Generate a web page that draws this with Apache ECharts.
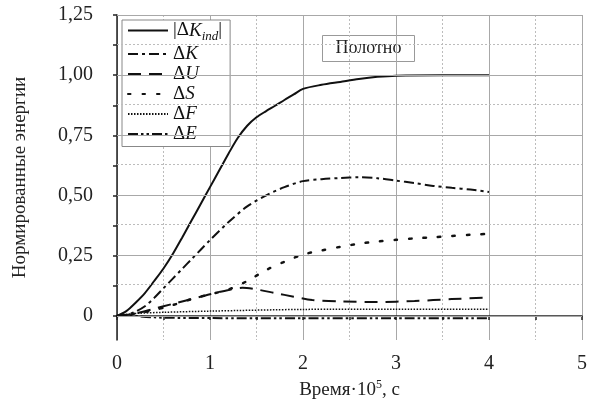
<!DOCTYPE html>
<html><head><meta charset="utf-8">
<script src="https://cdn.jsdelivr.net/npm/echarts@6/dist/echarts.min.js"></script>
<style>html,body{margin:0;padding:0;background:#fff}#c{width:590px;height:412px}</style>
</head><body><div id="c"></div>
<script>
// ---- data ----
const xKind = [0,0.1,0.2,0.3,0.4,0.5,0.6,0.7,0.8,0.9,1.0,1.1,1.2,1.3,1.4,1.5,1.6,1.7,1.8,1.9,2.0,2.2,2.4,2.6,2.8,3.0,3.5,4.0];
const yKind = [0,0.02,0.055,0.095,0.145,0.197,0.257,0.325,0.395,0.465,0.535,0.605,0.675,0.74,0.79,0.825,0.85,0.873,0.897,0.92,0.943,0.96,0.972,0.984,0.993,0.998,1.0,1.0];
const xK = [0,0.1,0.2,0.3,0.4,0.5,0.6,0.7,0.8,0.9,1.0,1.2,1.4,1.6,1.8,2.0,2.2,2.4,2.6,2.8,3.0,3.2,3.4,3.6,3.8,4.0];
const yK = [0,0.004,0.018,0.04,0.075,0.115,0.155,0.195,0.235,0.275,0.315,0.39,0.455,0.50,0.535,0.56,0.568,0.573,0.576,0.572,0.562,0.552,0.54,0.532,0.525,0.515];
const xU = [0,0.2,0.4,0.6,0.8,1.0,1.2,1.35,1.5,1.7,1.9,2.1,2.4,2.8,3.2,3.6,4.0];
const yU = [0,0.01,0.03,0.05,0.07,0.09,0.108,0.117,0.11,0.095,0.08,0.066,0.06,0.058,0.062,0.07,0.076];
const xS = [0,0.2,0.4,0.6,0.8,1.0,1.2,1.4,1.6,1.8,2.0,2.2,2.4,2.6,2.8,3.0,3.2,3.4,3.6,3.8,4.0];
const yS = [0,0.01,0.025,0.045,0.07,0.09,0.11,0.145,0.19,0.225,0.255,0.272,0.287,0.30,0.309,0.316,0.322,0.327,0.332,0.337,0.341];
const xF = [0,0.2,0.5,1.0,2.0,3.0,4.0];
const yF = [0,0.01,0.015,0.02,0.027,0.028,0.028];
const xE = [0,0.1,0.2,0.4,0.6,1.0,2.0,3.0,4.0];
const yE = [0,0.005,0,-0.006,-0.008,-0.009,-0.01,-0.01,-0.01];
const yMajorTicks = [0,0.25,0.5,0.75,1.0,1.25];
const yMinorTicks = [0.125,0.375,0.625,0.875,1.125];
const yAllTicks = [0,0.125,0.25,0.375,0.5,0.625,0.75,0.875,1.0,1.125,1.25];
const seriesNames = ['Kind','K','U','S','F','E'];
// ---- chart ----
const F = '"Liberation Serif","Times New Roman",serif';
const pairs = (xs, ys) => xs.map((x, i) => [x, ys[i]]);
const chart = echarts.init(document.getElementById('c'));
const sym = {
  d:{fontFamily:F,fontSize:19,color:'#111'},
  i:{fontFamily:F,fontSize:19,fontStyle:'italic',color:'#111'},
  k:{fontFamily:F,fontSize:19,color:'#111',lineHeight:26},
  s:{fontFamily:F,fontSize:13,fontStyle:'italic',color:'#111',verticalAlign:'bottom',padding:[8,0,0,0]}
};
const labelMap = {
  Kind:'{k||Δ}{i|K}{s|ind}{d||}',
  K:'{d|Δ}{i|K}', U:'{d|Δ}{i|U}', S:'{d|Δ}{i|S}', F:'{d|Δ}{i|F}', E:'{d|Δ}{i|E}'
};
const styles = {
  Kind:{type:'solid', width:2},
  K:{type:[10,4,3,4], width:2},
  U:{type:[13,8], width:2},
  S:{type:[2.5,12], width:2.5, cap:'round'},
  F:{type:[1.5,1.5], width:1.5},
  E:{type:[10,3,2.5,3,2.5,3], width:2}
};
const dataMap = {Kind:pairs(xKind,yKind),K:pairs(xK,yK),U:pairs(xU,yU),S:pairs(xS,yS),F:pairs(xF,yF),E:pairs(xE,yE)};
const fmt = v => v === 0 ? '0' : v.toFixed(2).replace('.', ',');
const majorStyle = {color:'#a8a8a8', width:1, type:'solid'};
const minorStyle = {color:'#bcbcbc', width:1, type:[2,2]};
const gridLines = yMajorTicks.map(v => ({yAxis:v, lineStyle:majorStyle}))
  .concat(yMinorTicks.map(v => ({yAxis:v, lineStyle:minorStyle})));
chart.setOption({
  animation:false,
  backgroundColor:'#fff',
  grid:{left:117, right:1, top:15, bottom:72, containLabel:false},
  xAxis:{type:'value', min:0, max:5, interval:1,
    name:'{t|Время·10}{p|5}{t|, с}', nameLocation:'middle', nameGap:33,
    nameTextStyle:{rich:{t:{fontFamily:F,fontSize:19,color:'#222'},p:{fontFamily:F,fontSize:12,color:'#222',verticalAlign:'top',padding:[0,0,10,0]}}},
    axisLine:{show:true,lineStyle:{color:'#222',width:1.5}},
    axisTick:{show:true,length:4,lineStyle:{color:'#222',width:1.5}},
    minorTick:{show:true,splitNumber:2,length:4,lineStyle:{color:'#222',width:1.5}},
    splitLine:{show:true,lineStyle:majorStyle},
    minorSplitLine:{show:true,lineStyle:minorStyle},
    axisLabel:{fontFamily:F,fontSize:20,color:'#222',margin:14}
  },
  yAxis:{type:'value', min:-0.1, max:1.25,
     name:'Нормированные энергии', nameLocation:'middle', nameGap:87,
     nameTextStyle:{fontFamily:F,fontSize:19,color:'#222'},
     axisLine:{show:true,lineStyle:{color:'#222',width:1.5}},
     axisTick:{show:true,length:4,customValues:yAllTicks,lineStyle:{color:'#222',width:1.5}},
     axisLabel:{customValues:yMajorTicks,formatter:fmt,fontFamily:F,fontSize:20,color:'#222',margin:24,hideOverlap:false},
     splitLine:{show:false}, minorSplitLine:{show:false}},
  legend:{orient:'vertical', left:122, top:20, itemWidth:40, itemHeight:14, itemGap:1, itemTextGap:5,
    padding:[1,8,3,5], borderColor:'#888', borderWidth:1, backgroundColor:'#fff',
    data:seriesNames, itemStyle:{opacity:0},
    formatter: n => labelMap[n],
    textStyle:{rich:sym}
  },
  graphic:[{type:'group', left:322, top:35, z:100, children:[
    {type:'rect', shape:{x:0,y:0,width:92,height:26}, style:{fill:'#fff',stroke:'#999',lineWidth:1}},
    {type:'text', x:46, y:13, style:{text:'Полотно', font:'18px '+F, fill:'#222', textAlign:'center', textVerticalAlign:'middle'}}
  ]}],
  series: seriesNames.map((n, j) => {
    const s = {
      name:n, type:'line', data:dataMap[n], symbol:'none', smooth:0.3,
      lineStyle:Object.assign({color:'#111'}, styles[n]), itemStyle:{color:'#111'}
    };
    if (j === 0) {
      s.markLine = {silent:true, symbol:['none','none'], label:{show:false}, animation:false, data:gridLines};
    }
    return s;
  })
});
</script></body></html>
